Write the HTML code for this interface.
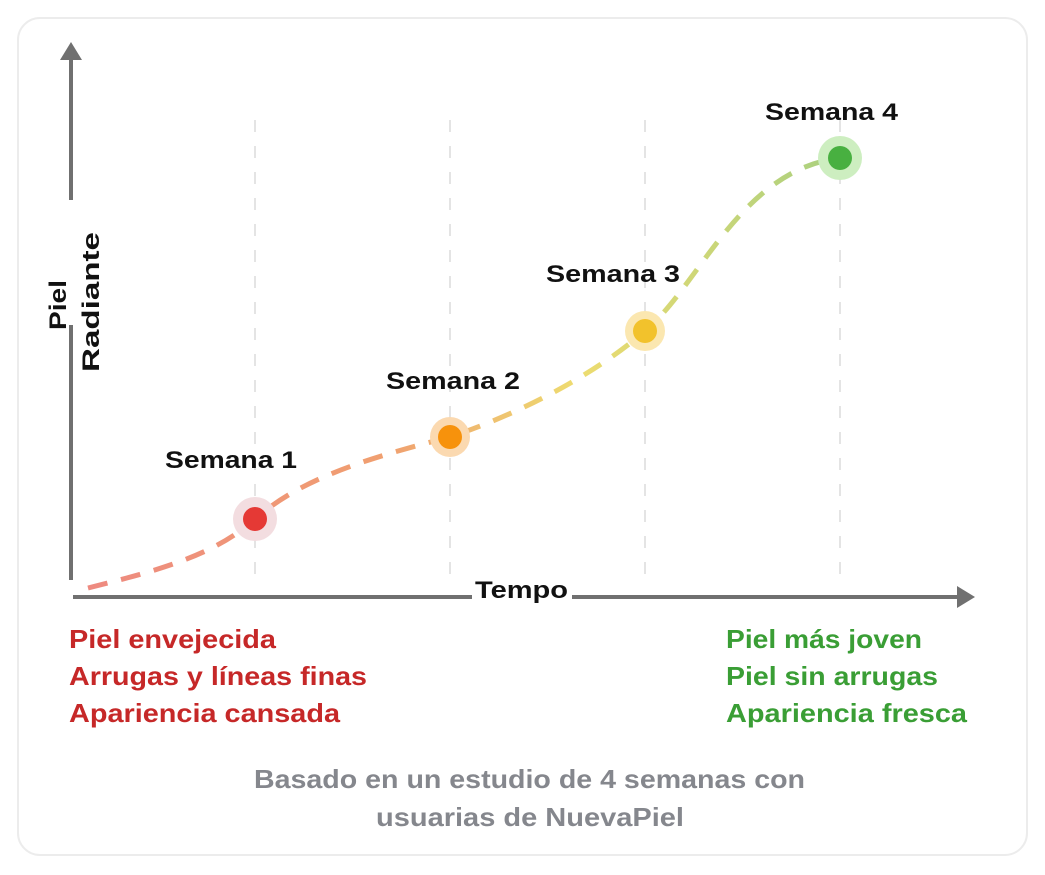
<!DOCTYPE html>
<html><head><meta charset="utf-8"><style>
html,body{margin:0;padding:0;background:#fff;}
svg{display:block;}
text{font-family:"Liberation Sans",Arial,sans-serif;font-weight:bold;}
.c{font-family:"Liberation Sans Narrow","Liberation Sans",sans-serif;font-weight:bold;font-size:26px;}
</style></head><body>
<svg width="1045" height="875" viewBox="0 0 1045 875" xmlns="http://www.w3.org/2000/svg">
<defs>
<linearGradient id="lg" x1="88" y1="0" x2="840" y2="0" gradientUnits="userSpaceOnUse">
<stop offset="0" stop-color="#ee8a80"/>
<stop offset="0.4" stop-color="#f0a070"/>
<stop offset="0.65" stop-color="#eedc70"/>
<stop offset="1" stop-color="#a8d080"/>
</linearGradient>
</defs>
<rect x="18" y="18" width="1009" height="837" rx="22" fill="#fff" stroke="#ececec" stroke-width="2"/>
<g stroke="#e4e4e4" stroke-width="2" stroke-dasharray="12 14">
<line x1="255" y1="120" x2="255" y2="575"/>
<line x1="450" y1="120" x2="450" y2="575"/>
<line x1="645" y1="120" x2="645" y2="575"/>
<line x1="840" y1="120" x2="840" y2="575"/>
</g>
<line x1="71" y1="55" x2="71" y2="200" stroke="#707070" stroke-width="4"/>
<line x1="71" y1="325" x2="71" y2="580" stroke="#707070" stroke-width="4"/>
<polygon points="71,42 60,60 82,60" fill="#707070"/>
<line x1="73" y1="597" x2="472" y2="597" stroke="#707070" stroke-width="4"/>
<line x1="572" y1="597" x2="960" y2="597" stroke="#707070" stroke-width="4"/>
<polygon points="975,597 957,586 957,608" fill="#707070"/>
<path d="M88,588 C160,570 215,555 255,519 C300,480 360,460 450,437 C530,410 600,370 645,331 C700,285 740,170 840,158" fill="none" stroke="url(#lg)" stroke-width="5" stroke-dasharray="20 14"/>
<circle cx="255" cy="519" r="22" fill="#f3dde0"/><circle cx="255" cy="519" r="12" fill="#e53935"/>
<circle cx="450" cy="437" r="20" fill="#fbd9b0"/><circle cx="450" cy="437" r="12" fill="#f7920c"/>
<circle cx="645" cy="331" r="20" fill="#fbe7b0"/><circle cx="645" cy="331" r="12" fill="#f2c22c"/>
<circle cx="840" cy="158" r="22" fill="#cdeec0"/><circle cx="840" cy="158" r="12" fill="#48b040"/>
<g font-size="24" fill="#111">
<text x="165" y="468" textLength="132" lengthAdjust="spacingAndGlyphs">Semana 1</text>
<text x="386" y="389" textLength="134" lengthAdjust="spacingAndGlyphs">Semana 2</text>
<text x="546" y="282" textLength="134" lengthAdjust="spacingAndGlyphs">Semana 3</text>
<text x="765" y="120" textLength="133" lengthAdjust="spacingAndGlyphs">Semana 4</text>
<text x="475" y="598" textLength="93" lengthAdjust="spacingAndGlyphs">Tempo</text>
<text transform="translate(66,330) rotate(-90)" textLength="50" lengthAdjust="spacingAndGlyphs">Piel</text>
<text transform="translate(99,372) rotate(-90)" textLength="140" lengthAdjust="spacingAndGlyphs">Radiante</text>
</g>
<g class="c" fill="#c62828">
<text class="c" x="69" y="648" textLength="207" lengthAdjust="spacingAndGlyphs">Piel envejecida</text>
<text class="c" x="69" y="685" textLength="298" lengthAdjust="spacingAndGlyphs">Arrugas y líneas finas</text>
<text class="c" x="69" y="722" textLength="271" lengthAdjust="spacingAndGlyphs">Apariencia cansada</text>
</g>
<g fill="#3a9e35">
<text class="c" x="726" y="648" textLength="196" lengthAdjust="spacingAndGlyphs">Piel más joven</text>
<text class="c" x="726" y="685" textLength="212" lengthAdjust="spacingAndGlyphs">Piel sin arrugas</text>
<text class="c" x="726" y="722" textLength="241" lengthAdjust="spacingAndGlyphs">Apariencia fresca</text>
</g>
<g fill="#85878d">
<text class="c" x="254" y="788" textLength="551" lengthAdjust="spacingAndGlyphs">Basado en un estudio de 4 semanas con</text>
<text class="c" x="376" y="826" textLength="308" lengthAdjust="spacingAndGlyphs">usuarias de NuevaPiel</text>
</g>
</svg>
</body></html>
